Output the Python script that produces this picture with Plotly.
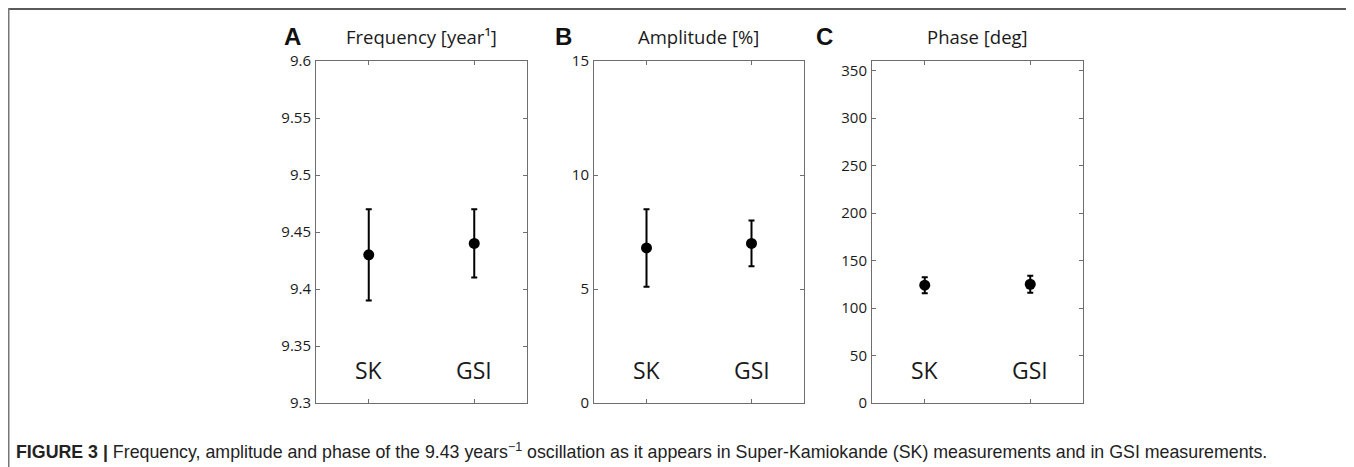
import plotly.graph_objects as go

# page body has an 8px margin, so the figure starts at (8, 8) in the window
OFF = 8
W, H = 1354 - OFF, 467 - OFF

categories = ["SK", "GSI"]
cat_pos = [1, 2]

freq_vals = [9.43, 9.44]
freq_err_plus = [0.04, 0.03]
freq_err_minus = [0.04, 0.03]

amp_vals = [6.8, 7.0]
amp_err_plus = [1.7, 1.0]
amp_err_minus = [1.7, 1.0]

phase_vals = [124.0, 125.0]
phase_err_plus = [8.5, 9.0]
phase_err_minus = [8.5, 9.0]

panel_letters = ["A", "B", "C"]
panel_titles = ["Frequency [year¹]", "Amplitude [%]", "Phase [deg]"]

freq_ticks = [9.3, 9.35, 9.4, 9.45, 9.5, 9.55, 9.6]
freq_ticktext = ["9.3", "9.35", "9.4", "9.45", "9.5", "9.55", "9.6"]
amp_ticks = [0, 5, 10, 15]
phase_ticks = [0, 50, 100, 150, 200, 250, 300, 350]

caption_bold = "FIGURE 3 |"
caption_text = (" Frequency, amplitude and phase of the 9.43 years<sup>\u22121</sup> oscillation "
                "as it appears in Super-Kamiokande (SK) measurements and in GSI measurements.")

def px_x(p):
    return (p - OFF) / W

def px_y(p):
    return 1 - (p - OFF) / H

panels = [
    dict(vals=freq_vals, ep=freq_err_plus, em=freq_err_minus, rng=[9.3, 9.6],
         tv=freq_ticks, tt=freq_ticktext, x0=316, x1=527),
    dict(vals=amp_vals, ep=amp_err_plus, em=amp_err_minus, rng=[0, 15],
         tv=amp_ticks, tt=[str(v) for v in amp_ticks], x0=594, x1=804),
    dict(vals=phase_vals, ep=phase_err_plus, em=phase_err_minus, rng=[0, 360],
         tv=phase_ticks, tt=[str(v) for v in phase_ticks], x0=872, x1=1083),
]
y_top, y_bot = 61, 403

fig = go.Figure()
axis_color = "#6e6e6e"
text_color = "#1a1a1a"
tick_font = dict(family="Open Sans, Noto Sans, sans-serif", size=15, color=text_color)

annotations = []
for i, p in enumerate(panels):
    n = "" if i == 0 else str(i + 1)
    xa, ya = "x" + n, "y" + n
    fig.add_trace(go.Scatter(
        x=cat_pos, y=p["vals"], mode="markers",
        marker=dict(color="black", size=11),
        error_y=dict(type="data", symmetric=False, array=p["ep"], arrayminus=p["em"],
                     color="black", thickness=2, width=3),
        xaxis=xa, yaxis=ya, showlegend=False, hoverinfo="skip"))
    xdom = [px_x(p["x0"]), px_x(p["x1"])]
    ydom = [px_y(y_bot), px_y(y_top)]
    common = dict(showline=True, linecolor=axis_color, linewidth=1, mirror="ticks",
                  ticks="inside", ticklen=4, tickcolor=axis_color, tickwidth=1,
                  showgrid=False, zeroline=False, fixedrange=True, automargin=False)
    fig.update_layout(**{
        "xaxis" + n: dict(domain=xdom, range=[0.5, 2.5], tickvals=cat_pos,
                          showticklabels=False, anchor=ya, **common),
        "yaxis" + n: dict(domain=ydom, range=p["rng"], tickvals=p["tv"], ticktext=p["tt"],
                          tickfont=tick_font, ticklabelstandoff=1, anchor=xa, **common),
    })
    for c, cp in zip(categories, cat_pos):
        annotations.append(dict(x=cp, y=0.0965, xref=xa, yref=ya + " domain",
                                text=c, showarrow=False, xanchor="center", yanchor="middle",
                                font=dict(family="Open Sans, Noto Sans, sans-serif", size=23,
                                          color=text_color)))
    cx = (p["x0"] + p["x1"]) / 2
    annotations.append(dict(x=px_x(cx), y=px_y(36.5), xref="paper", yref="paper",
                            text=panel_titles[i], showarrow=False, xanchor="center",
                            yanchor="middle",
                            font=dict(family="Open Sans, Noto Sans, sans-serif", size=18.5,
                                      color=text_color)))

letter_x = [292, 563.5, 825]
for lx, letter in zip(letter_x, panel_letters):
    annotations.append(dict(x=px_x(lx), y=px_y(37), xref="paper", yref="paper",
                            text="<b>" + letter + "</b>", showarrow=False,
                            xanchor="center", yanchor="middle",
                            font=dict(family="Liberation Sans, Arial, sans-serif", size=24,
                                      color="#111111")))

annotations.append(dict(x=px_x(14), y=px_y(451), xref="paper", yref="paper",
                        text="<b>" + caption_bold + "</b>" + caption_text, showarrow=False,
                        xanchor="left", yanchor="middle",
                        font=dict(family="Liberation Sans Narrow, Liberation Sans, Arial, sans-serif",
                                  size=17.8, color="#222222")))

shapes = [
    dict(type="line", xref="paper", yref="paper", x0=0, x1=1, y0=px_y(9), y1=px_y(9),
         line=dict(color="#5a5a5a", width=2)),
    dict(type="line", xref="paper", yref="paper", x0=px_x(8.75), x1=px_x(8.75), y0=px_y(8), y1=0,
         line=dict(color="#777777", width=1.5)),
    dict(type="line", xref="paper", yref="paper", x0=px_x(1352.5), x1=px_x(1352.5), y0=px_y(8), y1=0,
         line=dict(color="#777777", width=1.5)),
]

fig.update_layout(width=W, height=H, margin=dict(l=0, r=0, t=0, b=0, autoexpand=False),
                  paper_bgcolor="white", plot_bgcolor="white",
                  annotations=annotations, shapes=shapes)

fig.write_html("out.html")
